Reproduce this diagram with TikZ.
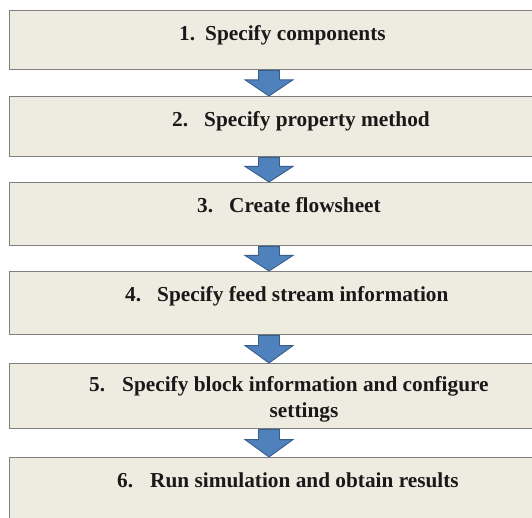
\documentclass[tikz,border=0pt]{standalone}
\usepackage{fontspec}
\setmainfont{Liberation Serif}
\usetikzlibrary{calc}
\definecolor{boxfill}{HTML}{EEECE1}
\definecolor{boxdraw}{HTML}{7F7F7F}
\definecolor{arrfill}{HTML}{4F81BD}
\definecolor{arrdraw}{HTML}{385D8A}
\tikzset{
  stepbox/.style={draw=boxdraw, fill=boxfill, line width=1.3pt, rectangle, anchor=north west, minimum width=560pt, inner sep=0pt},
  steptxt/.style={anchor=base west, inner sep=0pt, font=\fontsize{21.3}{26}\selectfont\bfseries, text=black!90},
  blkarrow/.style={draw=arrdraw, fill=arrfill, line width=0.9pt, line join=miter}
}
\newcommand\blkarr[2]{%
  \draw[blkarrow] let \p1=(#1.south), \p2=(#2.north), \n1={\y1+0.37*(\y2-\y1)} in
   (258.5pt,\y1) -- (279.5pt,\y1) -- (279.5pt,\n1) -- (293pt,\n1) -- (269pt,\y2)
   -- (245pt,\n1) -- (258.5pt,\n1) -- cycle;}
\begin{document}
\begin{tikzpicture}[x=1pt,y=1pt]
\useasboundingbox (0,0) rectangle (532,-517);
\clip (0,0) rectangle (532,-517);
\fill[white] (0,0) rectangle (532,-517);
% boxes
\node[stepbox, minimum height=59pt] (b1) at (9,-10) {};
\node[stepbox, minimum height=60pt] (b2) at (9,-96) {};
\node[stepbox, minimum height=63pt] (b3) at (9,-182) {};
\node[stepbox, minimum height=63pt] (b4) at (9,-271) {};
\node[stepbox, minimum height=65pt] (b5) at (9,-363) {};
\node[stepbox, minimum height=90pt] (b6) at (9,-457) {};
% arrows
\blkarr{b1}{b2}
\blkarr{b2}{b3}
\blkarr{b3}{b4}
\blkarr{b4}{b5}
\blkarr{b5}{b6}
% texts
\node[steptxt] (n1) at (179,-40) {1.};
\node[steptxt] (t1) at (205,-40) {Specify components};
\node[steptxt] (n2) at (172,-126) {2.};
\node[steptxt] (t2) at (204,-126) {Specify property method};
\node[steptxt] (n3) at (197,-212) {3.};
\node[steptxt] (t3) at (229,-212) {Create flowsheet};
\node[steptxt] (n4) at (125,-301) {4.};
\node[steptxt] (t4) at (157,-301) {Specify feed stream information};
\node[steptxt] (n5) at (89,-391) {5.};
\node[steptxt] (t5) at (122,-391) {Specify block information and configure};
\node[steptxt, anchor=base] (t5b) at (304,-417) {settings};
\node[steptxt] (n6) at (117,-487) {6.};
\node[steptxt] (t6) at (150,-487) {Run simulation and obtain results};
\end{tikzpicture}
\end{document}
